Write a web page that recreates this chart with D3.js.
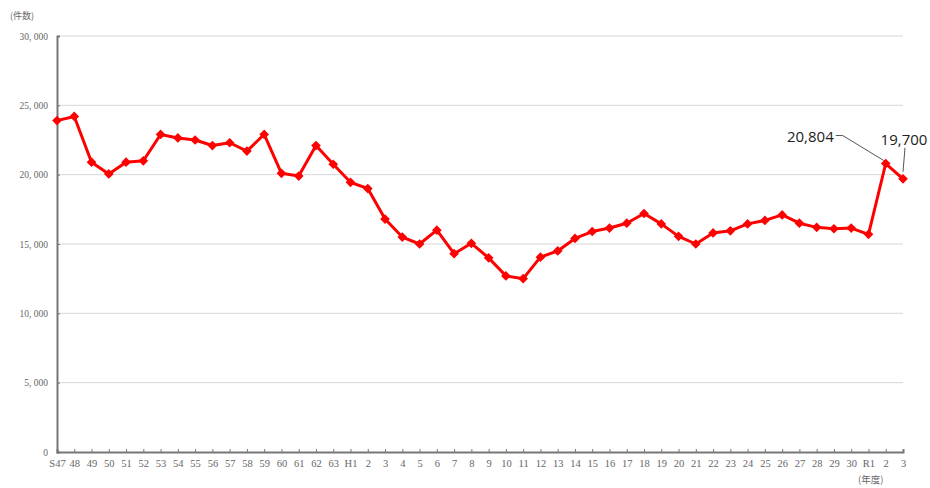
<!DOCTYPE html>
<html>
<head>
<meta charset="utf-8">
<script src="https://cdn.jsdelivr.net/npm/d3@7"></script>
<style>
  body { margin: 0; background: #fff; }
  svg { display: block; }
</style>
</head>
<body>
<div id="chart"></div>
<script>
// fiscal year labels (Showa / Heisei / Reiwa)
var years = ['S47','48','49','50','51','52','53','54','55','56','57','58','59','60','61','62','63',
  'H1','2','3','4','5','6','7','8','9','10','11','12','13','14','15','16','17','18','19','20',
  '21','22','23','24','25','26','27','28','29','30','R1','2','3'];

// number of cases
var counts = [23900, 24200, 20900, 20050, 20900, 21000, 22900, 22650, 22500, 22100, 22300, 21700, 22900,
  20100, 19900, 22100, 20750, 19450, 19000, 16800, 15500, 15000, 16000, 14300, 15050, 14000, 12700,
  12500, 14050, 14500, 15400, 15900, 16150, 16500, 17200, 16450, 15550, 15000, 15800, 15950, 16450,
  16700, 17100, 16500, 16200, 16100, 16150, 15700, 20804, 19700];

var yTicks = [0, 5000, 10000, 15000, 20000, 25000, 30000];

// labelled points
var callouts = [
  {i: 48, text: '20,804'},
  {i: 49, text: '19,700'}
];

var width = 930, height = 488;
var margin = {top: 36, right: 27, bottom: 36, left: 57};
var w = width - margin.left - margin.right;
var h = height - margin.top - margin.bottom;

var svg = d3.select('#chart').append('svg')
    .attr('width', width)
    .attr('height', height);

var g = svg.append('g')
    .attr('transform', 'translate(' + margin.left + ',' + margin.top + ')');

var xScale = d3.scalePoint()
    .domain(d3.range(years.length))
    .range([0, w]);

var yScale = d3.scaleLinear()
    .domain([0, 30000])
    .range([h, 0]);

var fmt = function(d){
    return d3.format(',')(d).replace(',', ', ');
};

// gridlines
g.append('g')
    .selectAll('line')
    .data(yTicks.filter(function(d){ return d > 0; }))
    .enter()
    .append('line')
        .attr('x1', 0)
        .attr('x2', w)
        .attr('y1', function(d){ return yScale(d); })
        .attr('y2', function(d){ return yScale(d); })
        .style('stroke', '#d6d6d6')
        .style('stroke-width', 1);

// y axis
var yAxis = d3.axisLeft(yScale)
    .tickValues(yTicks)
    .tickSize(-3)
    .tickPadding(9)
    .tickFormat(fmt);

var yG = g.append('g').call(yAxis);
yG.select('.domain').style('stroke', '#777').style('stroke-width', 2);
yG.selectAll('.tick line').style('stroke', '#777');
yG.selectAll('text')
    .style('font-family', '"Liberation Serif", "DejaVu Serif", serif')
    .style('font-size', '9.5px')
    .style('fill', '#666');

// x axis
var xAxis = d3.axisBottom(xScale)
    .tickSize(-3)
    .tickPadding(8)
    .tickFormat(function(d){ return years[d]; });

var xG = g.append('g')
    .attr('transform', 'translate(0,' + h + ')')
    .call(xAxis);
xG.select('.domain').style('stroke', '#777').style('stroke-width', 2);
xG.selectAll('.tick line').style('stroke', '#777');
xG.selectAll('text')
    .style('font-family', '"Liberation Serif", "DejaVu Serif", serif')
    .style('font-size', '10.5px')
    .style('fill', '#666');

// unit labels
svg.append('text')
    .attr('x', 10)
    .attr('y', 19)
    .text('(件数)')
    .style('font-family', '"Noto Sans CJK JP", serif')
    .style('font-size', '9px')
    .style('fill', '#666');

svg.append('text')
    .attr('x', 858)
    .attr('y', 483)
    .text('(年度)')
    .style('font-family', '"Noto Sans CJK JP", serif')
    .style('font-size', '9.5px')
    .style('fill', '#666');

// the line
var line = d3.line()
    .x(function(d, i){ return xScale(i); })
    .y(function(d){ return yScale(d); });

g.append('path')
    .datum(counts)
    .attr('d', line)
    .style('fill', 'none')
    .style('stroke', '#f00')
    .style('stroke-width', 3)
    .style('stroke-linejoin', 'round');

// diamond markers
g.append('g')
    .selectAll('path')
    .data(counts)
    .enter()
    .append('path')
        .attr('transform', function(d, i){
            return 'translate(' + xScale(i) + ',' + yScale(d) + ')';
        })
        .attr('d', d3.symbol().type(d3.symbolDiamond2).size(60))
        .style('fill', '#f00');

// callouts with leader lines
var c0 = callouts[0], c1 = callouts[1];
var p0 = [xScale(c0.i), yScale(counts[c0.i])];
var p1 = [xScale(c1.i), yScale(counts[c1.i])];

g.append('path')
    .attr('d', 'M' + (p0[0] - 50) + ',' + (p0[1] - 28) + 'h7L' + (p0[0] - 2) + ',' + (p0[1] - 3))
    .style('fill', 'none')
    .style('stroke', '#555')
    .style('stroke-width', 1);

g.append('path')
    .attr('d', 'M' + (p1[0] + 2) + ',' + (p1[1] - 31) + 'L' + p1[0] + ',' + (p1[1] - 7))
    .style('fill', 'none')
    .style('stroke', '#555')
    .style('stroke-width', 1);

g.append('text')
    .attr('x', p0[0] - 52)
    .attr('y', p0[1] - 22)
    .attr('text-anchor', 'end')
    .text(c0.text)
    .style('font-family', '"Open Sans", "Noto Sans", sans-serif')
    .style('font-size', '15px')
    .style('fill', '#222');

g.append('text')
    .attr('x', p1[0] + 1)
    .attr('y', p1[1] - 34)
    .attr('text-anchor', 'middle')
    .text(c1.text)
    .style('font-family', '"Open Sans", "Noto Sans", sans-serif')
    .style('font-size', '15px')
    .style('fill', '#222');
</script>
</body>
</html>
